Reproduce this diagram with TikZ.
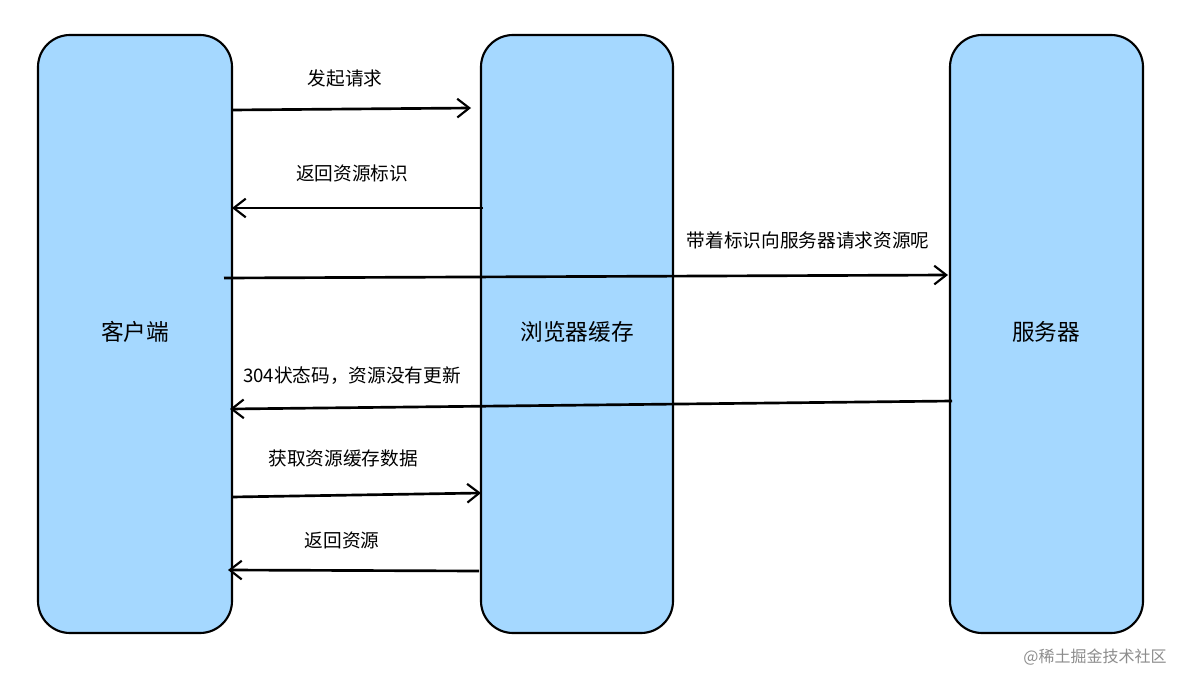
\documentclass[tikz,border=0pt]{standalone}
\usepackage{fontspec}
\setmainfont{Noto Sans CJK SC}
\usetikzlibrary{arrows.meta}
\definecolor{laneblue}{RGB}{165,216,255}
\tikzset{every picture/.style={line width=0.75pt}}
\tikzset{
  lane/.style={draw=black, line width=1.6pt, fill=laneblue, rounded corners=24pt},
  msg/.style={line width=2pt, -{Straight Barb[length=9pt,width=14pt,line width=1.6pt]}},
  msglabel/.style={inner sep=0.75pt, font=\fontsize{14}{16}\selectfont},
  lanelabel/.style={inner sep=0.75pt, font=\fontsize{17}{19}\selectfont}
}
\begin{document}
\begin{tikzpicture}[x=0.75pt,y=0.75pt,yscale=-1,xscale=1]
    \useasboundingbox (0,0) rectangle (1193,674);

    %Shape: Lanes
    \draw [lane] (38,35) rectangle (232,633);
    \draw [lane] (481,35) rectangle (673,633);
    \draw [lane] (950,35) rectangle (1143,633);

    % Lane labels
    \node [lanelabel] (client) at (135,332) {客户端};
    \node [lanelabel] (cache) at (577,332) {浏览器缓存};
    \node [lanelabel] (server) at (1046,332) {服务器};

    %Straight Lines
    \coordinate (a1) at (232,110); \coordinate (b1) at (471,108);
    \coordinate (a2) at (483,208); \coordinate (b2) at (232,208);
    \coordinate (a3) at (224,278); \coordinate (b3) at (948,275);
    \coordinate (a4) at (952,401); \coordinate (b4) at (230,409);
    \coordinate (a5) at (232,497); \coordinate (b5) at (481,493);
    \coordinate (a6) at (479,571); \coordinate (b6) at (228,570);
    \draw [msg] (a1) -- (b1);
    \draw [msg] (a2) -- (b2);
    \draw [msg] (a3) -- (b3);
    \draw [msg] (a4) -- (b4);
    \draw [msg] (a5) -- (b5);
    \draw [msg] (a6) -- (b6);

    % Text Nodes
    \node [msglabel] (m1) at (345,78) {发起请求};
    \node [msglabel] (m2) at (352,173) {返回资源标识};
    \node [msglabel] (m3) at (808,240) {带着标识向服务器请求资源呢};
    \node [msglabel] (m4) at (352,376) {304状态码，资源没有更新};
    \node [msglabel] (m5) at (343,458) {获取资源缓存数据};
    \node [msglabel] (m6) at (342,540) {返回资源};
    \node [msglabel, text=black!45, font=\fontsize{12}{14}\selectfont] (mark) at (1095,657) {@稀土掘金技术社区};
\end{tikzpicture}
\end{document}
